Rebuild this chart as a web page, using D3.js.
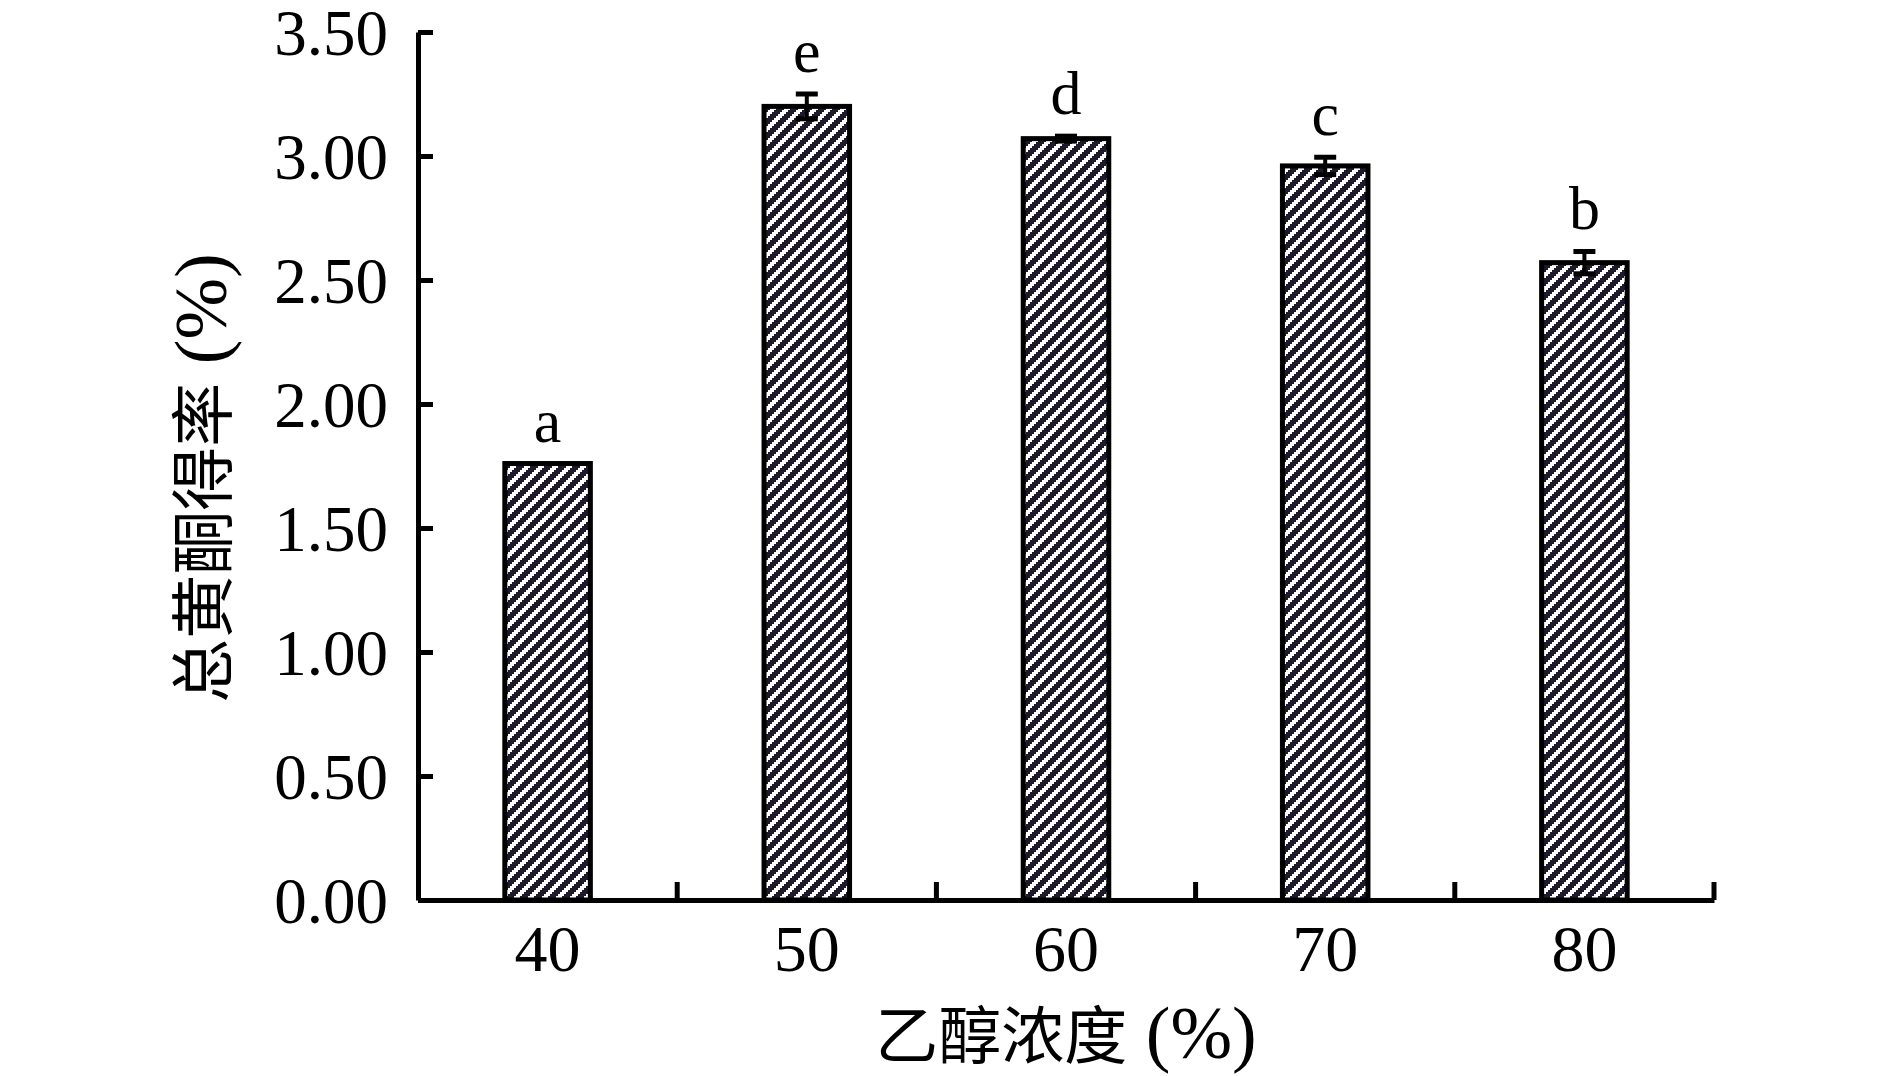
<!DOCTYPE html>
<html>
<head>
<meta charset="utf-8">
<script src="https://cdn.jsdelivr.net/npm/d3@7"></script>
<style>
  body { margin: 0; background: #fff; }
  text { font-family: "Liberation Serif", "Noto Sans CJK SC", serif; fill: #000; }
  .cjk { font-family: "Noto Sans CJK SC", sans-serif; }
</style>
</head>
<body>
<svg id="chart" width="1890" height="1076"></svg>
<script>
// ethanol concentration (%) vs total flavonoid yield (%)
var categories = ["40", "50", "60", "70", "80"];
var yieldMean = [1.76, 3.20, 3.07, 2.96, 2.57];
var yieldErr = [0.00, 0.05, 0.01, 0.035, 0.045];
var sigLetters = ["a", "e", "d", "c", "b"];
var yTicks = [0, 0.5, 1, 1.5, 2, 2.5, 3, 3.5];

var svg = d3.select("#chart"),
    margin = {top: 32, right: 176, bottom: 176, left: 418},
    width = +svg.attr("width") - margin.left - margin.right,
    height = +svg.attr("height") - margin.top - margin.bottom;

var defs = svg.append("defs");
var pat = defs.append("pattern")
    .attr("id", "hatch")
    .attr("patternUnits", "userSpaceOnUse")
    .attr("width", 14).attr("height", 14);
pat.append("rect").attr("width", 14).attr("height", 14).attr("fill", "#fff");
// stepped diagonal stripes rising to the right
for (var px = 0; px < 14; px += 2) {
  for (var py = 0; py < 14; py += 2) {
    if (((px + py) / 2) % 7 < 3.5) {
      pat.append("rect").attr("x", px).attr("y", py)
        .attr("width", 2).attr("height", 2).attr("fill", "#1e1a2c");
    }
  }
}

var x = d3.scaleBand().domain(categories).range([0, width]).padding(0),
    y = d3.scaleLinear().domain([0, 3.5]).range([height, 0]);

var barW = x.bandwidth() * 0.33;

var g = svg.append("g")
    .attr("transform", "translate(" + margin.left + "," + margin.top + ")");

// bars
g.selectAll(".bar")
  .data(yieldMean)
  .enter().append("rect")
    .attr("class", "bar")
    .attr("x", function(d, i) { return x(categories[i]) + (x.bandwidth() - barW) / 2; })
    .attr("y", function(d) { return y(d); })
    .attr("width", barW)
    .attr("height", function(d) { return height - y(d); })
    .attr("fill", "url(#hatch)")
    .attr("stroke", "#000")
    .attr("stroke-width", 5);

// error bars
categories.forEach(function(c, i) {
  var d = yieldMean[i], e = yieldErr[i];
  if (e <= 0) return;
  var s = g.append("g")
      .attr("class", "err")
      .attr("transform", "translate(" + (x(c) + x.bandwidth() / 2) + ",0)");
  s.append("line").attr("x1", 0).attr("x2", 0)
    .attr("y1", y(d - e)).attr("y2", y(d + e))
    .attr("stroke", "#000").attr("stroke-width", 4);
  [d - e, d + e].forEach(function(v) {
    s.append("line").attr("x1", -11).attr("x2", 11)
      .attr("y1", y(v)).attr("y2", y(v))
      .attr("stroke", "#000").attr("stroke-width", 5);
  });
});

// significance letters
g.selectAll(".sig")
  .data(sigLetters)
  .enter().append("text")
    .attr("class", "sig")
    .attr("x", function(d, i) { return x(categories[i]) + x.bandwidth() / 2; })
    .attr("y", function(d, i) { return y(yieldMean[i] + yieldErr[i]) - 22; })
    .attr("text-anchor", "middle")
    .style("font-size", "62px")
    .text(function(d) { return d; });

// y axis
var yAxis = g.append("g")
    .attr("class", "axis axis--y")
    .call(d3.axisLeft(y).tickValues(yTicks).tickSizeInner(-15).tickSizeOuter(0).tickPadding(30)
      .tickFormat(d3.format(".2f")));
yAxis.select(".domain").attr("stroke-width", 5);
yAxis.selectAll(".tick line").attr("stroke-width", 5);
yAxis.selectAll("text").style("font-size", "65px").attr("dy", "0.34em");

// x axis with ticks between categories
var xAxis = g.append("g")
    .attr("class", "axis axis--x")
    .attr("transform", "translate(0," + height + ")")
    .call(d3.axisBottom(x).tickSize(0).tickPadding(24));
xAxis.select(".domain").attr("stroke-width", 5);
xAxis.selectAll("text").style("font-size", "66px").attr("dy", "0.71em");
xAxis.selectAll(".sep")
  .data(categories)
  .enter().append("line")
    .attr("class", "sep")
    .attr("x1", function(d) { return x(d) + x.bandwidth(); })
    .attr("x2", function(d) { return x(d) + x.bandwidth(); })
    .attr("y1", 0).attr("y2", -18)
    .attr("stroke", "#000").attr("stroke-width", 5);

// axis titles
var yTitle = g.append("text")
    .attr("transform", "translate(-192," + (height / 2 + 12) + ") rotate(-90)")
    .attr("text-anchor", "middle");
yTitle.append("tspan").attr("class", "cjk").style("font-size", "64px").text("总黄酮得率");
yTitle.append("tspan").style("font-size", "74px").text(" (%)");

var xTitle = g.append("text")
    .attr("x", width / 2)
    .attr("y", height + 158)
    .attr("text-anchor", "middle");
xTitle.append("tspan").attr("class", "cjk").style("font-size", "63px").text("乙醇浓度");
xTitle.append("tspan").style("font-size", "74px").text(" (%)");
</script>
</body>
</html>
